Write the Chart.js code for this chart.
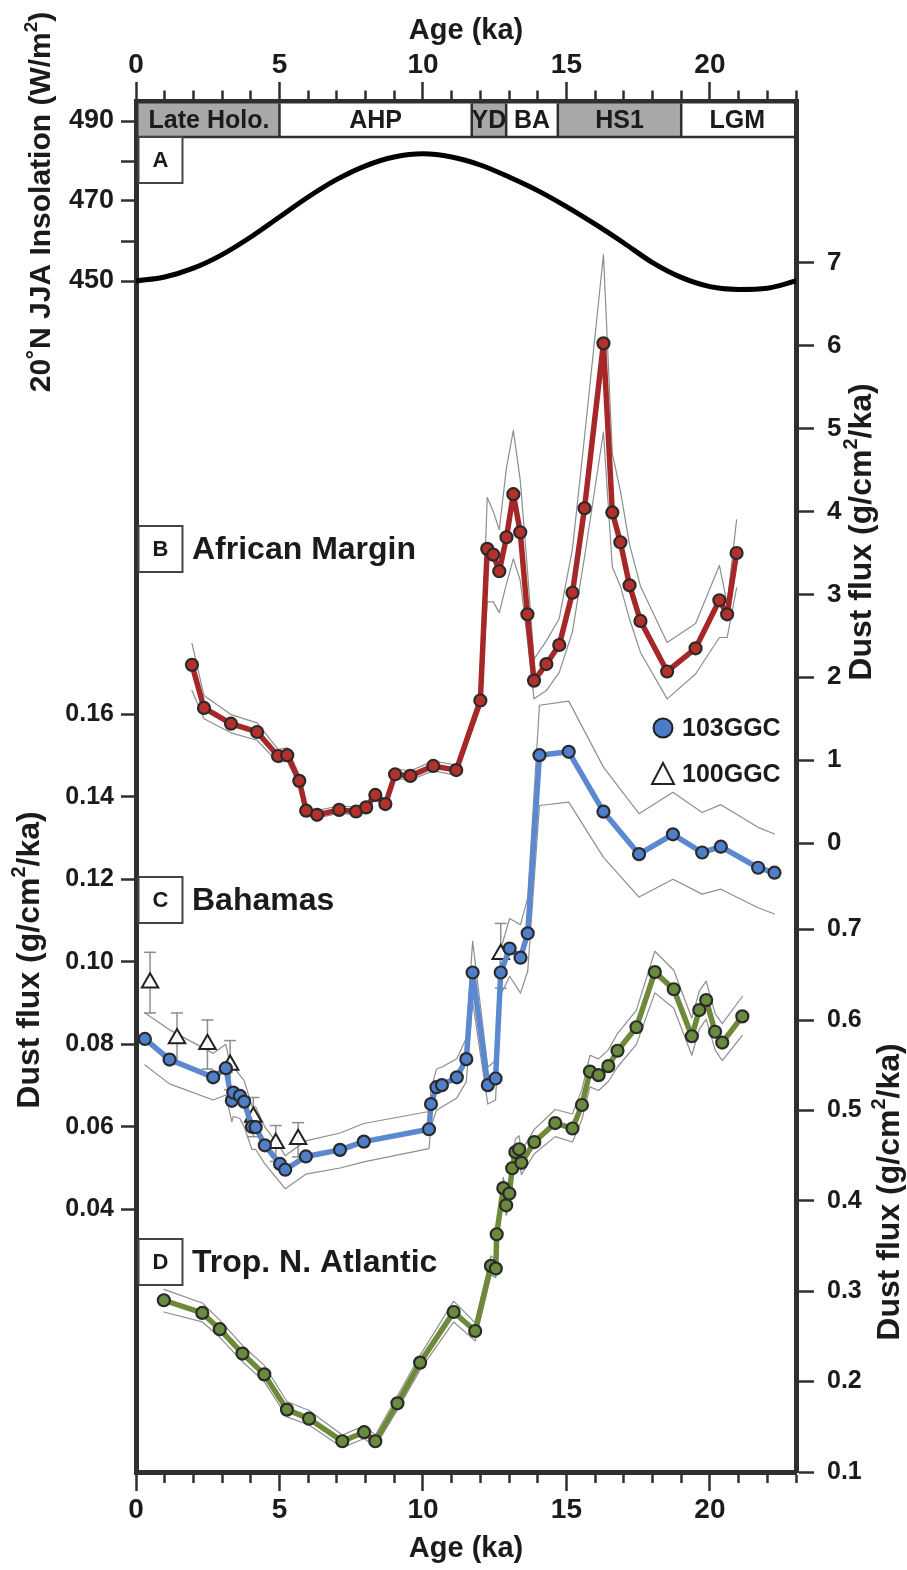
<!DOCTYPE html>
<html>
<head>
<meta charset="utf-8">
<script src="https://cdn.jsdelivr.net/npm/chart.js@4.4.1/dist/chart.umd.min.js"></script>
<style>
  html, body { margin: 0; padding: 0; background: #fff; }
  canvas { display: block; }
</style>
</head>
<body>
<canvas id="chart" width="907" height="1570"></canvas>
<script>
const FONT = '"Liberation Sans", Arial, Helvetica, sans-serif'
const INK = '#1b1b1b'
const AXIS = '#2f2f2f'

// A: 20N JJA insolation, every 1 ka
const insAge = [0, 1, 2, 3, 4, 5, 6, 7, 8, 9, 10, 11, 12, 13, 14, 15, 16, 17, 18, 19, 20, 21, 22, 23]
const insolation = [450.0, 451.0, 453.2, 456.6, 461.0, 466.0, 471.0, 475.4, 478.8, 481.0, 481.8, 481.0,
  479.0, 476.0, 472.6, 468.6, 464.2, 459.5, 454.6, 450.9, 448.6, 447.9, 448.2, 450.0]

// climate periods in the strip along the top
const periodNames = ['Late Holo.', 'AHP', 'YD', 'BA', 'HS1', 'LGM']
const periodFrom = [0, 5, 11.7, 12.9, 14.7, 19]
const periodTo = [5, 11.7, 12.9, 14.7, 19, 23]
const periodShaded = [true, false, true, false, true, false]

// B: African Margin dust flux (g/cm2/ka) with its envelope
const afAge = [1.95, 2.37, 3.31, 4.22, 4.95, 5.27, 5.69, 5.93, 6.31, 7.08, 7.67, 8.02, 8.34, 8.69, 9.03,
  9.56, 10.36, 11.16, 12.0, 12.24, 12.45, 12.66, 12.91, 13.15, 13.39, 13.64, 13.87, 14.3, 14.75, 15.21,
  15.63, 16.29, 16.6, 16.88, 17.2, 17.58, 18.51, 19.5, 20.33, 20.6, 20.93]
const afFlux = [2.15, 1.63, 1.44, 1.34, 1.05, 1.06, 0.75, 0.39, 0.34, 0.40, 0.38, 0.43, 0.58, 0.47, 0.83,
  0.81, 0.93, 0.88, 1.72, 3.55, 3.48, 3.28, 3.69, 4.21, 3.75, 2.76, 1.96, 2.16, 2.39, 3.02,
  4.04, 6.03, 3.99, 3.63, 3.11, 2.68, 2.07, 2.35, 2.93, 2.76, 3.50]
const afHigh = [2.41, 1.78, 1.55, 1.45, 1.13, 1.15, 0.82, 0.44, 0.39, 0.45, 0.43, 0.48, 0.63, 0.52, 0.89,
  0.87, 0.99, 0.94, 1.80, 4.17, 4.00, 3.78, 4.53, 4.98, 4.38, 3.30, 2.22, 2.44, 2.71, 3.55,
  4.90, 7.10, 4.70, 4.25, 3.60, 3.10, 2.42, 2.65, 3.35, 2.89, 3.90]
const afLow = [1.84, 1.50, 1.33, 1.24, 0.97, 0.99, 0.69, 0.34, 0.30, 0.36, 0.34, 0.39, 0.53, 0.42, 0.78,
  0.76, 0.87, 0.82, 1.63, 2.91, 2.91, 2.78, 3.13, 3.43, 3.17, 2.45, 1.74, 1.84, 2.06, 2.55,
  3.45, 4.96, 3.33, 3.10, 2.70, 2.30, 1.74, 2.04, 2.48, 2.48, 3.08]

// C: Bahamas, core 103GGC with envelope
const bhAge = [0.31, 1.17, 2.69, 3.13, 3.34, 3.39, 3.62, 3.77, 4.04, 4.17, 4.49, 5.02, 5.2, 5.92, 7.11,
  7.94, 10.21, 10.28, 10.47, 10.66, 11.18, 11.51, 11.73, 12.26, 12.53, 12.71, 13.02, 13.4, 13.65, 14.06,
  15.08, 16.29, 17.53, 18.71, 19.73, 20.38, 21.68, 22.25]
const bhFlux = [0.0813, 0.0763, 0.0720, 0.0742, 0.0663, 0.0683, 0.0675, 0.0661, 0.0600, 0.0599, 0.0555,
  0.0510, 0.0496, 0.0528, 0.0544, 0.0564, 0.0594, 0.0655, 0.0696, 0.0701, 0.0720, 0.0764, 0.0974, 0.0701,
  0.0717, 0.0974, 0.1032, 0.1010, 0.1069, 0.1501, 0.1509, 0.1364, 0.1261, 0.1309, 0.1265, 0.1279, 0.1228, 0.1216]
const bhHigh = [0.0876, 0.0835, 0.0778, 0.0800, 0.0730, 0.0745, 0.0725, 0.0712, 0.0650, 0.0648, 0.0600,
  0.0550, 0.0530, 0.0566, 0.0585, 0.0608, 0.0637, 0.0690, 0.0740, 0.0745, 0.0765, 0.0815, 0.1050, 0.0745,
  0.0760, 0.1030, 0.1105, 0.1090, 0.1155, 0.1622, 0.1632, 0.1472, 0.1359, 0.1411, 0.1362, 0.1381, 0.1326, 0.1310]
const bhLow = [0.0750, 0.0704, 0.0665, 0.0677, 0.0612, 0.0625, 0.0620, 0.0600, 0.0545, 0.0545, 0.0510,
  0.0465, 0.0450, 0.0485, 0.0500, 0.0515, 0.0547, 0.0600, 0.0640, 0.0648, 0.0670, 0.0709, 0.0904, 0.0655,
  0.0665, 0.0920, 0.0965, 0.0924, 0.0977, 0.1379, 0.1387, 0.1253, 0.1157, 0.1200, 0.1164, 0.1176, 0.1131, 0.1116]

// C: Bahamas, core 100GGC with error bars
const b100Age = [0.49, 1.43, 2.49, 3.28, 4.09, 4.87, 5.65, 12.71]
const b100Flux = [0.0949, 0.0814, 0.0800, 0.0750, 0.0624, 0.0560, 0.0570, 0.1018]
const b100High = [0.1023, 0.0876, 0.0859, 0.0809, 0.0671, 0.0603, 0.0610, 0.1093]
const b100Low = [0.0876, 0.0752, 0.0740, 0.0690, 0.0576, 0.0516, 0.0527, 0.0936]

// D: tropical North Atlantic with envelope
const tnaAge = [0.97, 2.31, 2.92, 3.71, 4.47, 5.26, 6.03, 7.19, 7.95, 8.34, 9.11, 9.9, 11.07, 11.82, 12.37,
  12.54, 12.57, 12.8, 12.9, 13.01, 13.11, 13.22, 13.35, 13.43, 13.88, 14.61, 15.21, 15.54, 15.82, 16.12,
  16.46, 16.78, 17.44, 18.08, 18.74, 19.37, 19.63, 19.87, 20.18, 20.43, 21.13]
const tnaFlux = [0.290, 0.276, 0.258, 0.231, 0.208, 0.169, 0.159, 0.134, 0.144, 0.134, 0.176, 0.221, 0.277,
  0.256, 0.328, 0.325, 0.363, 0.414, 0.395, 0.408, 0.436, 0.454, 0.457, 0.442, 0.465, 0.486, 0.480, 0.506,
  0.543, 0.539, 0.549, 0.566, 0.592, 0.653, 0.634, 0.582, 0.611, 0.622, 0.587, 0.575, 0.604]
const tnaHigh = [0.302, 0.287, 0.268, 0.240, 0.218, 0.178, 0.168, 0.141, 0.151, 0.141, 0.184, 0.229, 0.289,
  0.265, 0.339, 0.335, 0.375, 0.426, 0.408, 0.421, 0.449, 0.468, 0.472, 0.455, 0.479, 0.501, 0.496, 0.523,
  0.561, 0.557, 0.567, 0.585, 0.611, 0.676, 0.655, 0.602, 0.632, 0.643, 0.607, 0.596, 0.626]
const tnaLow = [0.277, 0.266, 0.249, 0.222, 0.200, 0.161, 0.152, 0.127, 0.137, 0.128, 0.169, 0.213, 0.266,
  0.245, 0.318, 0.315, 0.352, 0.402, 0.384, 0.395, 0.423, 0.440, 0.444, 0.429, 0.452, 0.471, 0.465, 0.490,
  0.526, 0.522, 0.532, 0.548, 0.573, 0.630, 0.613, 0.561, 0.590, 0.601, 0.567, 0.555, 0.583]

// tick labels
const ageLabels = [0, 5, 10, 15, 20]
const insTicks = [450, 460, 470, 480, 490]
const insLabels = ['450', '', '470', '', '490']
const afTicks = [0, 1, 2, 3, 4, 5, 6, 7]
const bhTicks = [0.04, 0.06, 0.08, 0.10, 0.12, 0.14, 0.16]
const tnaTicks = [0.1, 0.2, 0.3, 0.4, 0.5, 0.6, 0.7]

// each panel's axis spans the whole plot height, so the ranges stack the panels
const insRange = [152.25, 495]
const afRange = [-7.591, 8.955]
const bhRange = [-0.0237, 0.3087]
const tnaRange = [0.1, 1.6166]

const toRange = (v, from, to) => to[0] + (v - from[0]) * (to[1] - to[0]) / (from[1] - from[0])

// left axis carries the insolation ticks and the Bahamas ticks, right axis B and D
const leftTicks = insTicks.map((v, i) => ({ value: v, label: insLabels[i], size: 27 }))
  .concat(bhTicks.map(v => ({ value: toRange(v, bhRange, insRange), label: v.toFixed(2), size: 25 })))
  .sort((a, b) => a.value - b.value)
const rightTicks = afTicks.map(v => ({ value: v, label: String(v), size: 26 }))
  .concat(tnaTicks.map(v => ({ value: toRange(v, tnaRange, afRange), label: v.toFixed(1), size: 25 })))
  .sort((a, b) => a.value - b.value)

const ageTicks = []
for (let a = 0; a <= 23; a++) ageTicks.push(a)

const xy = (xs, ys) => xs.map((x, i) => ({ x, y: ys[i] }))

function series(xs, ys, axis, line, fill) {
  return {
    data: xy(xs, ys), yAxisID: axis, order: 2,
    borderColor: line, borderWidth: 5.5,
    pointRadius: 6, pointHoverRadius: 6, pointBackgroundColor: fill,
    pointBorderColor: '#2a2a2a', pointBorderWidth: 2.2
  }
}

function envelope(xs, ys, axis) {
  return { data: xy(xs, ys), yAxisID: axis, order: 9, borderColor: '#8e8e8e', borderWidth: 1.2, pointRadius: 0 }
}

const errorBars = []
b100Age.forEach((a, i) => {
  errorBars.push({ x: a, y: b100Low[i] }, { x: a, y: b100High[i] }, { x: a, y: null })
})

function ageAxis(position) {
  const top = position === 'top'
  return {
    type: 'linear', position, min: 0, max: 23, bounds: 'data',
    afterBuildTicks: s => { s.ticks = ageTicks.map(v => ({ value: v })) },
    afterFit: s => { s.height = top ? 101 : 98 },
    ticks: {
      autoSkip: false, maxRotation: 0, padding: top ? 0 : 2, color: INK,
      font: { family: FONT, size: 28, weight: 'bold' },
      callback: v => ageLabels.includes(v) ? String(v) : ''
    },
    grid: {
      drawOnChartArea: false, tickLength: 19, tickWidth: 2.5, tickColor: AXIS,
      tickBorderDash: c => (c.tick && !ageLabels.includes(c.tick.value)) ? (top ? [0, 8.5, 30] : [8, 30]) : []
    },
    border: { width: 5, color: AXIS },
    title: {
      display: true, text: 'Age (ka)', color: INK,
      font: { family: FONT, size: 29, weight: 'bold' },
      padding: top ? { top: 14, bottom: 0 } : { top: 0, bottom: 4 }
    }
  }
}

function carrierAxis(position, range, list, width, tickLength, padding) {
  return {
    type: 'linear', position, min: range[0], max: range[1], bounds: 'data',
    afterBuildTicks: s => { s.ticks = list.map(t => ({ value: t.value })) },
    afterFit: s => { s.width = width },
    ticks: {
      autoSkip: false, padding, color: INK,
      callback: (v, i) => list[i].label,
      font: c => ({ family: FONT, weight: 'bold', size: list[c.index] ? list[c.index].size : 26 })
    },
    grid: { drawOnChartArea: false, tickLength, tickWidth: 2.5, tickColor: AXIS },
    border: { width: 5, color: AXIS }
  }
}

function drawRich(ctx, parts, x, y, size) {
  ctx.save()
  ctx.translate(x, y)
  ctx.rotate(-Math.PI / 2)
  ctx.textAlign = 'left'
  ctx.textBaseline = 'middle'
  ctx.fillStyle = INK
  const fonts = parts.map(p => `bold ${p.sup ? Math.round(size * 0.62) : size}px ${FONT}`)
  const widths = parts.map((p, i) => { ctx.font = fonts[i]; return ctx.measureText(p.text).width })
  let cx = -widths.reduce((a, b) => a + b, 0) / 2
  parts.forEach((p, i) => {
    ctx.font = fonts[i]
    ctx.fillText(p.text, cx, p.sup ? -size * 0.33 : 0)
    cx += widths[i]
  })
  ctx.restore()
}

const decorations = {
  id: 'decorations',
  afterDraw(chart) {
    const { ctx, chartArea: area, scales } = chart
    const x = scales.x
    ctx.save()

    // period strip
    const bandTop = area.top + 2.5
    const bandBottom = area.top + 36
    ctx.textAlign = 'center'
    ctx.textBaseline = 'middle'
    ctx.font = `bold 25px ${FONT}`
    periodNames.forEach((name, i) => {
      const x0 = Math.max(x.getPixelForValue(periodFrom[i]), area.left + 2.5)
      const x1 = Math.min(x.getPixelForValue(periodTo[i]), area.right - 2.5)
      ctx.fillStyle = periodShaded[i] ? '#a8a8a8' : '#fff'
      ctx.fillRect(x0, bandTop, x1 - x0, bandBottom - bandTop)
      ctx.fillStyle = INK
      ctx.fillText(name, (x0 + x1) / 2, (bandTop + bandBottom) / 2 + 1)
    })
    ctx.strokeStyle = AXIS
    ctx.lineWidth = 2.5
    ctx.beginPath()
    periodFrom.slice(1).forEach(a => {
      const px = x.getPixelForValue(a)
      ctx.moveTo(px, bandTop)
      ctx.lineTo(px, bandBottom)
    })
    ctx.moveTo(area.left, bandBottom)
    ctx.lineTo(area.right, bandBottom)
    ctx.stroke()

    // panel letters and names
    const panels = [['A', '', bandBottom], ['B', 'African Margin', 526], ['C', 'Bahamas', 877], ['D', 'Trop. N. Atlantic', 1239]]
    panels.forEach(([letter, name, top]) => {
      ctx.fillStyle = '#fff'
      ctx.fillRect(area.left + 2.5, top, 44, 46)
      ctx.strokeStyle = '#444'
      ctx.lineWidth = 2
      ctx.strokeRect(area.left + 2.5, top, 44, 46)
      ctx.fillStyle = INK
      ctx.textAlign = 'center'
      ctx.font = `bold 22px ${FONT}`
      ctx.fillText(letter, area.left + 24.5, top + 24)
      if (name) {
        ctx.textAlign = 'left'
        ctx.font = `bold 32px ${FONT}`
        ctx.fillText(name, area.left + 56, top + 24)
      }
    })

    // legend for the Bahamas cores
    ctx.fillStyle = '#4a7cc7'
    ctx.strokeStyle = '#222'
    ctx.lineWidth = 2
    ctx.beginPath()
    ctx.arc(663, 728, 9.5, 0, Math.PI * 2)
    ctx.fill()
    ctx.stroke()
    ctx.fillStyle = '#fff'
    ctx.beginPath()
    ctx.moveTo(663, 763)
    ctx.lineTo(674, 784)
    ctx.lineTo(652, 784)
    ctx.closePath()
    ctx.fill()
    ctx.stroke()
    ctx.fillStyle = INK
    ctx.textAlign = 'left'
    ctx.font = `bold 25px ${FONT}`
    ctx.fillText('103GGC', 682, 729)
    ctx.fillText('100GGC', 682, 775)
    ctx.restore()

    // axis titles
    const insTitle = [{ text: '20˚N JJA Insolation (W/m' }, { text: '2', sup: true }, { text: ')' }]
    const dustTitle = [{ text: 'Dust flux (g/cm' }, { text: '2', sup: true }, { text: '/ka)' }]
    drawRich(ctx, insTitle, 42, 202, 30)
    drawRich(ctx, dustTitle, 862, 532, 32)
    drawRich(ctx, dustTitle, 30, 960, 32)
    drawRich(ctx, dustTitle, 890, 1192, 32)
  }
}

new Chart(document.getElementById('chart'), {
  type: 'line',
  data: {
    datasets: [
      { data: xy(insAge, insolation), yAxisID: 'yL', order: 1, borderColor: '#000', borderWidth: 5,
        pointRadius: 0, cubicInterpolationMode: 'monotone' },

      series(afAge, afFlux, 'yR', '#a62727', '#b3302b'),
      envelope(afAge, afHigh, 'yR'),
      envelope(afAge, afLow, 'yR'),

      series(bhAge, bhFlux, 'yC', '#5b88cf', '#4f7fca'),
      { data: xy(b100Age, b100Flux), yAxisID: 'yC', order: 3, showLine: false,
        pointStyle: 'triangle', pointRadius: 9.5, pointHoverRadius: 9.5,
        pointBackgroundColor: 'rgba(255,255,255,0.9)', pointBorderColor: '#222', pointBorderWidth: 2 },
      { data: errorBars, yAxisID: 'yC', order: 4, borderColor: '#8e8e8e', borderWidth: 1.5, spanGaps: false,
        pointStyle: 'line', pointRadius: 6, pointHoverRadius: 6, pointBorderColor: '#8e8e8e', pointBorderWidth: 1.5 },
      envelope(bhAge, bhHigh, 'yC'),
      envelope(bhAge, bhLow, 'yC'),

      series(tnaAge, tnaFlux, 'yD', '#6d8a3a', '#6a8a3d'),
      envelope(tnaAge, tnaHigh, 'yD'),
      envelope(tnaAge, tnaLow, 'yD')
    ]
  },
  options: {
    responsive: false,
    animation: false,
    devicePixelRatio: 1,
    layout: { padding: { left: 66, right: 31, top: 0, bottom: 0 } },
    elements: { line: { borderJoinStyle: 'round', borderCapStyle: 'round' } },
    plugins: { legend: { display: false }, tooltip: { enabled: false } },
    scales: {
      x: ageAxis('bottom'),
      x2: ageAxis('top'),
      yL: carrierAxis('left', insRange, leftTicks, 70, 15, 7),
      yR: carrierAxis('right', afRange, rightTicks, 80, 18, 13),
      yC: { type: 'linear', display: false, min: bhRange[0], max: bhRange[1] },
      yD: { type: 'linear', display: false, min: tnaRange[0], max: tnaRange[1] }
    }
  },
  plugins: [decorations]
})
</script>
</body>
</html>
